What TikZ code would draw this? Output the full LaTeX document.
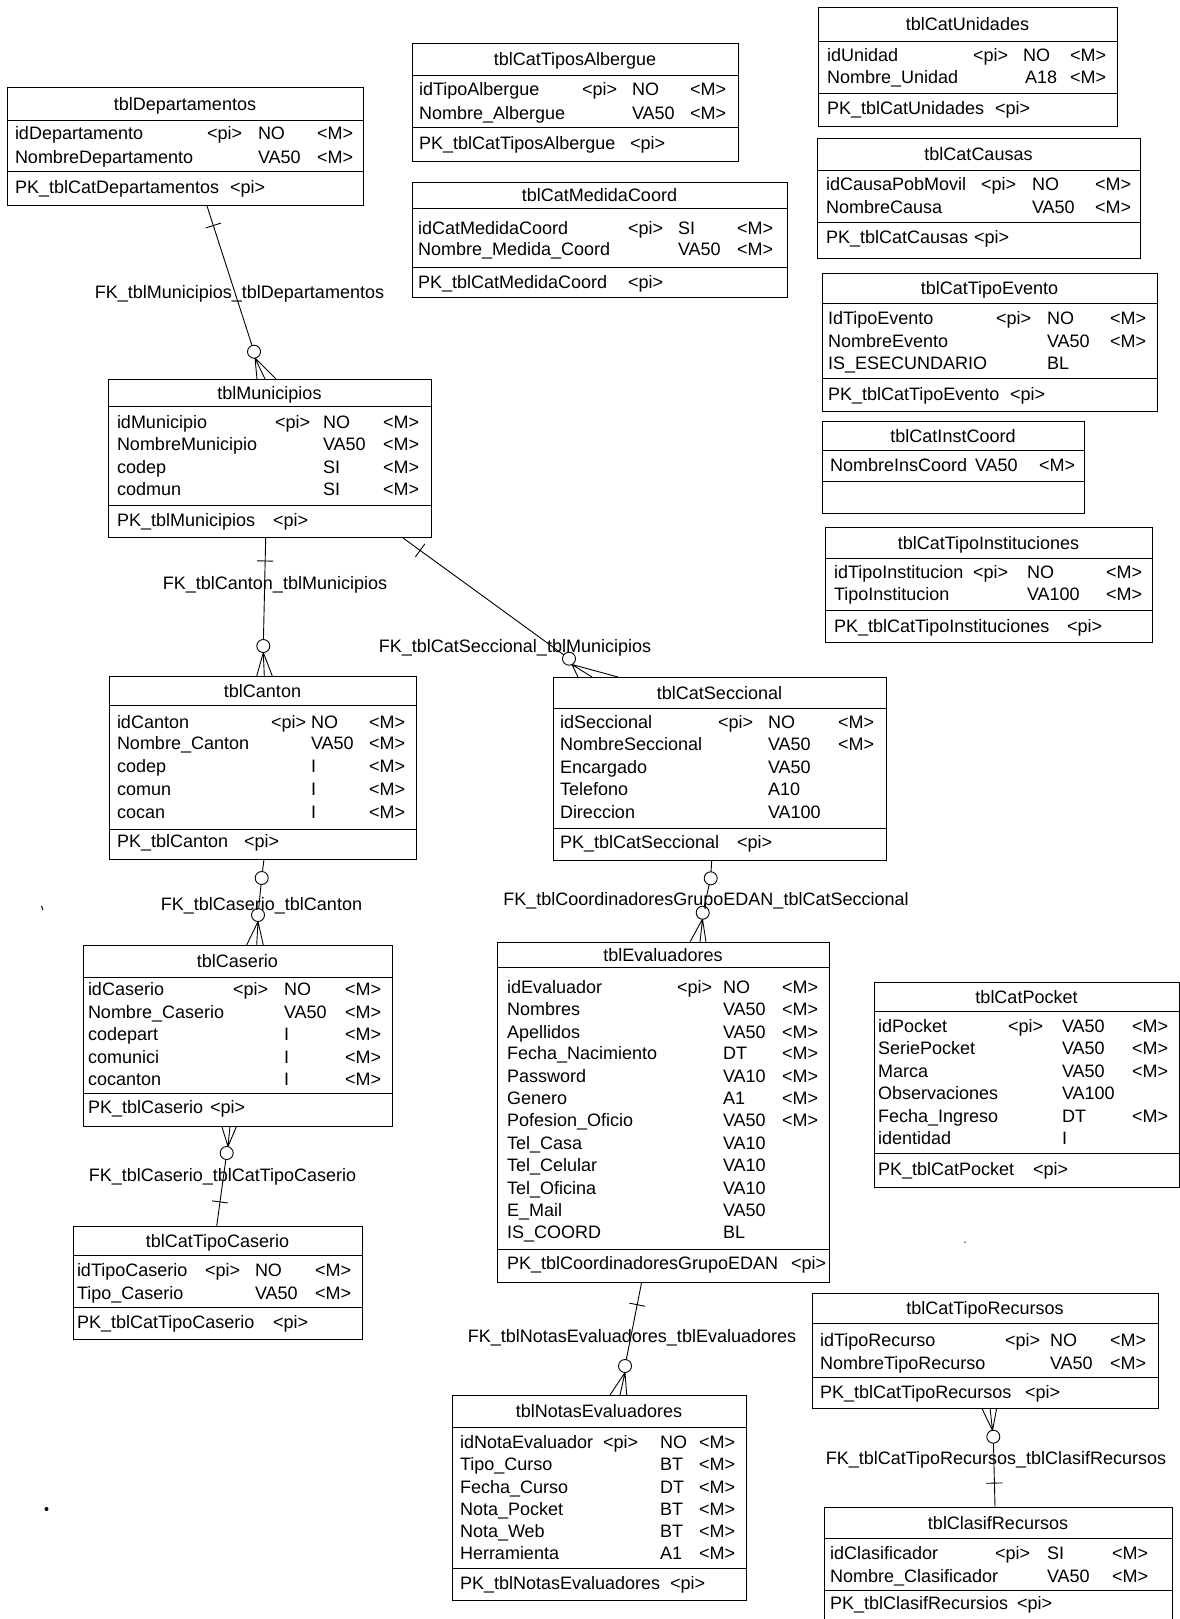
\documentclass[tikz,border=0pt]{standalone}
\usepackage{fontspec}
\setmainfont{Liberation Sans}
\newcommand\tabfont{\fontsize{18}{20}\selectfont}
\tikzset{
 tbox/.style={draw, line width=0.9pt, inner sep=0pt, outer sep=0pt},
 tsep/.style={line width=0.7pt},
 cell/.style={inner sep=0pt, outer sep=0pt, anchor=west, text height=13pt, text depth=0pt, font=\tabfont},
 ttl/.style={cell, anchor=center},
 conn/.style={line width=0.9pt},
 ocirc/.style={circle, draw, line width=0.9pt, fill=white, minimum size=13pt, inner sep=0pt},
 barm/.style={draw, line width=0.9pt, minimum width=0pt, minimum height=16pt, inner sep=0pt, outer sep=0pt},
 lbl/.style={inner sep=0pt, outer sep=0pt, text height=13pt, text depth=0pt, font=\tabfont},
 speck/.style={fill=black, inner sep=0pt, outer sep=0pt},
}
\newcommand\tbl[8]{%
 \node[tbox, minimum width={(#4)-(#2)}, minimum height={(#5)-(#3)}, anchor=north west] (#1) at (#2,#3) {};
 \draw[tsep] (#2,#6) -- (#4,#6);
 \draw[tsep] (#2,#7) -- (#4,#7);
 \node[ttl] (#1-title) at ({((#2)+(#4))/2},{((#3)+(#6))/2}) {#8};
}
\newcommand\cols[4]{\def\colA{#1}\def\colB{#2}\def\colC{#3}\def\colD{#4}}
\newcommand\rw[7]{%
 \node[cell] (#1-#2a) at (\colA,#3) {#4};
 \if\relax\detokenize{#5}\relax\else\node[cell] (#1-#2b) at (\colB,#3) {#5};\fi
 \if\relax\detokenize{#6}\relax\else\node[cell] (#1-#2c) at (\colC,#3) {#6};\fi
 \if\relax\detokenize{#7}\relax\else\node[cell] (#1-#2d) at (\colD,#3) {#7};\fi
}
\newcommand\pk[5]{%
 \node[cell] (#1-pk) at (#2,#4) {#5};
 \node[cell] (#1-pkpi) at (#3,#4) {<pi>};
}
\begin{document}
\begin{tikzpicture}[x=1pt,y=-1pt]
\useasboundingbox (0,0) rectangle (1180,1619);
\fill[white] (0,0) rectangle (1180,1619);

% tblDepartamentos
\tbl{dep}{7}{87}{363}{205}{120}{171}{tblDepartamentos}
\cols{15}{207}{258}{317}
\rw{dep}{1}{133}{idDepartamento}{<pi>}{NO}{<M>}
\rw{dep}{2}{157}{NombreDepartamento}{}{VA50}{<M>}
\pk{dep}{15}{230}{187}{PK\_tblCatDepartamentos}

% tblCatTiposAlbergue
\tbl{alb}{412}{43}{738}{161}{75}{127}{tblCatTiposAlbergue}
\cols{419}{582}{632}{690}
\rw{alb}{1}{89.3}{idTipoAlbergue}{<pi>}{NO}{<M>}
\rw{alb}{2}{112.7}{Nombre\_Albergue}{}{VA50}{<M>}
\pk{alb}{419}{630}{143.3}{PK\_tblCatTiposAlbergue}

% tblCatMedidaCoord
\tbl{med}{412}{182}{787}{297}{208}{267}{tblCatMedidaCoord}
\cols{418}{628}{678}{737}
\rw{med}{1}{227.7}{idCatMedidaCoord}{<pi>}{SI}{<M>}
\rw{med}{2}{249.3}{Nombre\_Medida\_Coord}{}{VA50}{<M>}
\pk{med}{418}{628}{281.7}{PK\_tblCatMedidaCoord}

% tblCatUnidades
\tbl{uni}{818}{7}{1117}{126}{41}{93}{tblCatUnidades}
\cols{827}{973}{1023}{1070}
\rw{uni}{1}{55}{idUnidad}{<pi>}{NO}{<M>}
\rw{uni}{2}{77.3}{Nombre\_Unidad}{}{}{<M>}
\node[cell] (uni-2c) at (1025,77.3) {A18};
\pk{uni}{827}{995}{108.3}{PK\_tblCatUnidades}

% tblCatCausas
\tbl{cau}{817}{138}{1140}{258}{170}{222}{tblCatCausas}
\cols{826}{981}{1032}{1095}
\rw{cau}{1}{184}{idCausaPobMovil}{<pi>}{NO}{<M>}
\rw{cau}{2}{206.7}{NombreCausa}{}{VA50}{<M>}
\pk{cau}{826}{974}{237.3}{PK\_tblCatCausas}

% tblCatTipoEvento
\tbl{eve}{822}{273}{1157}{411}{303}{378}{tblCatTipoEvento}
\cols{828}{996}{1047}{1110}
\rw{eve}{1}{318.3}{IdTipoEvento}{<pi>}{NO}{<M>}
\rw{eve}{2}{340.7}{NombreEvento}{}{VA50}{<M>}
\rw{eve}{3}{362.7}{IS\_ESECUNDARIO}{}{BL}{}
\pk{eve}{828}{1010}{394}{PK\_tblCatTipoEvento}

% tblCatInstCoord
\tbl{ins}{822}{421}{1084}{513}{450}{481}{tblCatInstCoord}
\cols{830}{900}{975}{1039}
\rw{ins}{1}{465}{NombreInsCoord}{}{VA50}{<M>}

% tblCatTipoInstituciones
\tbl{tin}{825}{527}{1152}{642}{558}{610}{tblCatTipoInstituciones}
\cols{834}{973}{1027}{1106}
\rw{tin}{1}{572.3}{idTipoInstitucion}{<pi>}{NO}{<M>}
\rw{tin}{2}{594.3}{TipoInstitucion}{}{VA100}{<M>}
\pk{tin}{834}{1067}{625.7}{PK\_tblCatTipoInstituciones}

% tblMunicipios
\tbl{mun}{108}{379}{431}{537}{406}{505}{tblMunicipios}
\cols{117}{275}{323}{383}
\rw{mun}{1}{421.7}{idMunicipio}{<pi>}{NO}{<M>}
\rw{mun}{2}{444.3}{NombreMunicipio}{}{VA50}{<M>}
\rw{mun}{3}{467.3}{codep}{}{SI}{<M>}
\rw{mun}{4}{489.3}{codmun}{}{SI}{<M>}
\pk{mun}{117}{273}{520}{PK\_tblMunicipios}

% tblCanton
\tbl{can}{109}{676}{416}{859}{705}{829}{tblCanton}
\cols{117}{271}{311}{369}
\rw{can}{1}{721.6}{idCanton}{<pi>}{NO}{<M>}
\rw{can}{2}{743.3}{Nombre\_Canton}{}{VA50}{<M>}
\rw{can}{3}{766}{codep}{}{I}{<M>}
\rw{can}{4}{788.7}{comun}{}{I}{<M>}
\rw{can}{5}{811.5}{cocan}{}{I}{<M>}
\pk{can}{117}{244}{841.4}{PK\_tblCanton}

% tblCaserio
\tbl{cas}{83}{945}{392}{1126}{977}{1093}{tblCaserio}
\cols{88}{233}{284}{345}
\rw{cas}{1}{989.3}{idCaserio}{<pi>}{NO}{<M>}
\rw{cas}{2}{1011.7}{Nombre\_Caserio}{}{VA50}{<M>}
\rw{cas}{3}{1034.3}{codepart}{}{I}{<M>}
\rw{cas}{4}{1056.7}{comunici}{}{I}{<M>}
\rw{cas}{5}{1079}{cocanton}{}{I}{<M>}
\pk{cas}{88}{210}{1106.7}{PK\_tblCaserio}

% tblCatTipoCaserio
\tbl{tcs}{73}{1226}{362}{1339}{1255}{1307}{tblCatTipoCaserio}
\cols{77}{205}{255}{315}
\rw{tcs}{1}{1270}{idTipoCaserio}{<pi>}{NO}{<M>}
\rw{tcs}{2}{1292.7}{Tipo\_Caserio}{}{VA50}{<M>}
\pk{tcs}{77}{273}{1321.7}{PK\_tblCatTipoCaserio}

% tblCatSeccional
\tbl{sec}{553}{677}{886}{860}{708}{828}{tblCatSeccional}
\cols{560}{718}{768}{838}
\rw{sec}{1}{721.7}{idSeccional}{<pi>}{NO}{<M>}
\rw{sec}{2}{744.3}{NombreSeccional}{}{VA50}{<M>}
\rw{sec}{3}{766.7}{Encargado}{}{VA50}{}
\rw{sec}{4}{789}{Telefono}{}{A10}{}
\rw{sec}{5}{811.7}{Direccion}{}{VA100}{}
\pk{sec}{560}{737}{841.7}{PK\_tblCatSeccional}

% tblEvaluadores
\tbl{eva}{497}{942}{829}{1282}{967}{1249}{tblEvaluadores}
\cols{507}{677}{723}{782}
\rw{eva}{1}{987.3}{idEvaluador}{<pi>}{NO}{<M>}
\rw{eva}{2}{1009.3}{Nombres}{}{VA50}{<M>}
\rw{eva}{3}{1031.7}{Apellidos}{}{VA50}{<M>}
\rw{eva}{4}{1053.3}{Fecha\_Nacimiento}{}{DT}{<M>}
\rw{eva}{5}{1076}{Password}{}{VA10}{<M>}
\rw{eva}{6}{1097.7}{Genero}{}{A1}{<M>}
\rw{eva}{7}{1120}{Pofesion\_Oficio}{}{VA50}{<M>}
\rw{eva}{8}{1142.7}{Tel\_Casa}{}{VA10}{}
\rw{eva}{9}{1165}{Tel\_Celular}{}{VA10}{}
\rw{eva}{10}{1187.7}{Tel\_Oficina}{}{VA10}{}
\rw{eva}{11}{1210}{E\_Mail}{}{VA50}{}
\rw{eva}{12}{1231.7}{IS\_COORD}{}{BL}{}
\pk{eva}{507}{791}{1263.3}{PK\_tblCoordinadoresGrupoEDAN}

% tblCatPocket
\tbl{poc}{874}{982}{1179}{1187}{1011}{1153}{tblCatPocket}
\cols{878}{1008}{1062}{1132}
\rw{poc}{1}{1026}{idPocket}{<pi>}{VA50}{<M>}
\rw{poc}{2}{1048.3}{SeriePocket}{}{VA50}{<M>}
\rw{poc}{3}{1070.7}{Marca}{}{VA50}{<M>}
\rw{poc}{4}{1093.3}{Observaciones}{}{VA100}{}
\rw{poc}{5}{1115.7}{Fecha\_Ingreso}{}{DT}{<M>}
\rw{poc}{6}{1138.3}{identidad}{}{I}{}
\pk{poc}{878}{1033}{1169.3}{PK\_tblCatPocket}

% tblNotasEvaluadores
\tbl{nev}{452}{1395}{746}{1600}{1427}{1568}{tblNotasEvaluadores}
\cols{460}{603}{660}{699}
\rw{nev}{1}{1441.7}{idNotaEvaluador}{<pi>}{NO}{<M>}
\rw{nev}{2}{1464}{Tipo\_Curso}{}{BT}{<M>}
\rw{nev}{3}{1486.5}{Fecha\_Curso}{}{DT}{<M>}
\rw{nev}{4}{1508.5}{Nota\_Pocket}{}{BT}{<M>}
\rw{nev}{5}{1530.5}{Nota\_Web}{}{BT}{<M>}
\rw{nev}{6}{1553}{Herramienta}{}{A1}{<M>}
\pk{nev}{460}{670}{1583.3}{PK\_tblNotasEvaluadores}

% tblCatTipoRecursos
\tbl{tre}{812}{1293}{1158}{1408}{1323}{1377}{tblCatTipoRecursos}
\cols{820}{1005}{1050}{1110}
\rw{tre}{1}{1340}{idTipoRecurso}{<pi>}{NO}{<M>}
\rw{tre}{2}{1362.7}{NombreTipoRecurso}{}{VA50}{<M>}
\pk{tre}{820}{1025}{1391.7}{PK\_tblCatTipoRecursos}

% tblClasifRecursos
\tbl{cla}{824}{1507}{1172}{1624}{1538}{1590}{tblClasifRecursos}
\cols{830}{995}{1047}{1112}
\rw{cla}{1}{1553.3}{idClasificador}{<pi>}{SI}{<M>}
\rw{cla}{2}{1575.7}{Nombre\_Clasificador}{}{VA50}{<M>}
\pk{cla}{830}{1017}{1603.3}{PK\_tblClasifRecursios}

% ---------- relations ----------
% R1 dep -> mun
\coordinate (r1s) at ([xshift=199.7pt]dep.south west);
\coordinate (r1c) at (254,351.7);
\coordinate (r1j) at (255,358);
\draw[conn] (r1s) -- node[barm, pos=0.14, sloped] (r1b) {} (r1c);
\draw[conn] (r1j) -- ([xshift=149pt]mun.north west)
            (r1j) -- ([xshift=157pt]mun.north west)
            (r1j) -- ([xshift=168pt]mun.north west);
\node[ocirc] (r1o) at (r1c) {};
\node[lbl] (r1l) at (239.5,291.7) {FK\_tblMunicipios\_tblDepartamentos};

% R2 mun -> can
\coordinate (r2s) at ([xshift=157.7pt]mun.south west);
\coordinate (r2c) at (263.3,646);
\coordinate (r2j) at (263.3,652.5);
\draw[conn] (r2s) -- node[barm, pos=0.22, sloped] (r2b) {} (r2c);
\draw[conn] (r2j) -- ([xshift=147.7pt]can.north west)
            (r2j) -- ([xshift=155.3pt]can.north west)
            (r2j) -- ([xshift=163.3pt]can.north west);
\node[ocirc] (r2o) at (r2c) {};
\node[lbl] (r2l) at (275,583) {FK\_tblCanton\_tblMunicipios};

% R3 mun -> sec
\coordinate (r3s) at ([xshift=293.7pt]mun.south west);
\coordinate (r3c) at (569,658.7);
\coordinate (r3j) at (572,664.5);
\draw[conn] (r3s) -- node[barm, pos=0.11, sloped] (r3b) {} (r3c);
\draw[conn] (r3j) -- ([xshift=25pt]sec.north west)
            (r3j) -- ([xshift=39pt]sec.north west)
            (r3j) -- ([xshift=65pt]sec.north west);
\node[ocirc] (r3o) at (r3c) {};
\node[lbl] (r3l) at (515,645.5) {FK\_tblCatSeccional\_tblMunicipios};

% R4 sec -> eva
\coordinate (r4s) at ([xshift=158.7pt]sec.south west);
\coordinate (r4c) at (710.7,878.3);
\coordinate (r4d) at (702.7,912.7);
\coordinate (r4j) at (702.5,919);
\draw[conn] (r4s) -- (r4c) -- (r4d);
\draw[conn] (r4j) -- ([xshift=193pt]eva.north west)
            (r4j) -- ([xshift=203pt]eva.north west)
            (r4j) -- ([xshift=209pt]eva.north west);
\node[ocirc] (r4o) at (r4c) {};
\node[ocirc] (r4p) at (r4d) {};
\node[lbl] (r4l) at (706,899.3) {FK\_tblCoordinadoresGrupoEDAN\_tblCatSeccional};

% R5 can -> cas
\coordinate (r5s) at ([xshift=155pt]can.south west);
\coordinate (r5c) at (261.7,878);
\coordinate (r5d) at (258,915);
\coordinate (r5j) at (258,921.5);
\draw[conn] (r5s) -- (r5c) -- (r5d);
\draw[conn] (r5j) -- ([xshift=163.7pt]cas.north west)
            (r5j) -- ([xshift=173.7pt]cas.north west)
            (r5j) -- ([xshift=180.3pt]cas.north west);
\node[ocirc] (r5o) at (r5c) {};
\node[ocirc] (r5p) at (r5d) {};
\node[lbl] (r5l) at (261.5,904) {FK\_tblCaserio\_tblCanton};

% R6 cas -> tcs
\coordinate (r6j) at (228,1146.5);
\coordinate (r6c) at (226.7,1153);
\coordinate (r6e) at ([xshift=143.7pt]tcs.north west);
\draw[conn] (r6j) -- ([xshift=138.7pt]cas.south west)
            (r6j) -- ([xshift=147pt]cas.south west)
            (r6j) -- ([xshift=153.7pt]cas.south west);
\draw[conn] (r6c) -- node[barm, pos=0.67, sloped] (r6b) {} (r6e);
\node[ocirc] (r6o) at (r6c) {};
\node[lbl] (r6l) at (222.5,1175) {FK\_tblCaserio\_tblCatTipoCaserio};

% R7 eva -> nev
\coordinate (r7s) at ([xshift=144.7pt]eva.south west);
\coordinate (r7c) at (625,1366);
\coordinate (r7j) at (625,1372.5);
\draw[conn] (r7s) -- node[barm, pos=0.27, sloped] (r7b) {} (r7c);
\draw[conn] (r7j) -- ([xshift=158pt]nev.north west)
            (r7j) -- ([xshift=168pt]nev.north west)
            (r7j) -- ([xshift=174.7pt]nev.north west);
\node[ocirc] (r7o) at (r7c) {};
\node[lbl] (r7l) at (632,1336) {FK\_tblNotasEvaluadores\_tblEvaluadores};

% R8 tre -> cla
\coordinate (r8j) at (992.5,1430.5);
\coordinate (r8c) at (993.3,1436.7);
\coordinate (r8e) at ([xshift=171pt]cla.north west);
\draw[conn] (r8j) -- ([xshift=169.7pt]tre.south west)
            (r8j) -- ([xshift=178pt]tre.south west)
            (r8j) -- ([xshift=184.7pt]tre.south west);
\draw[conn] (r8c) -- node[barm, pos=0.66, sloped] (r8b) {} (r8e);
\node[ocirc] (r8o) at (r8c) {};
\node[lbl] (r8l) at (996,1458.3) {FK\_tblCatTipoRecursos\_tblClasifRecursos};

% small specks of the scanned original
\node[speck, circle, minimum size=4pt] (sp1) at (46.5,1509) {};
\draw[line width=1pt] (41.5,906) -- (43,910);
\node[speck, circle, minimum size=1.5pt] (sp2) at (965,1242) {};
\end{tikzpicture}
\end{document}
